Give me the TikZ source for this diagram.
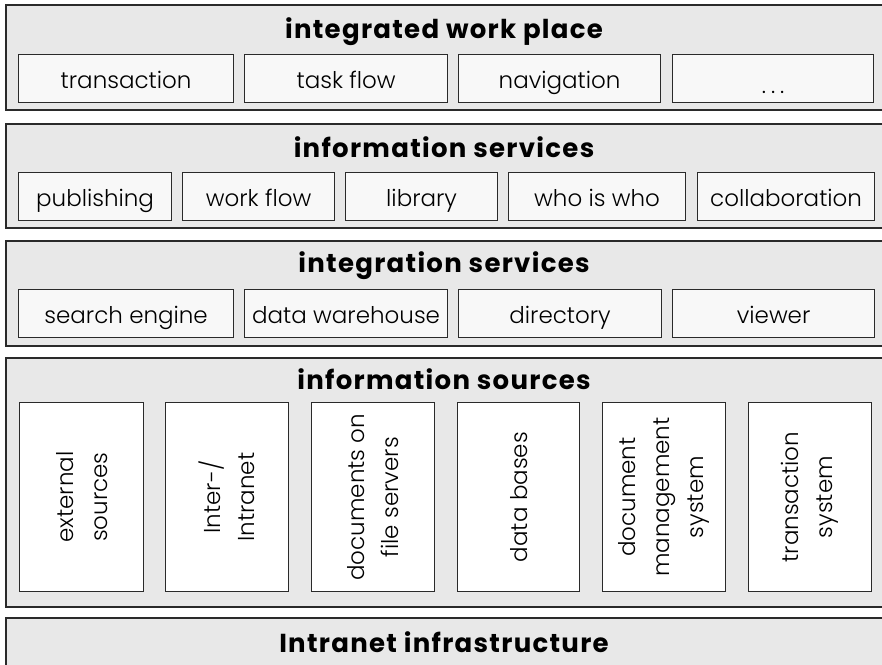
\documentclass[tikz,border=0pt]{standalone}
\usepackage{fontspec}
\setmainfont{Poppins}
\newfontfamily\lightfont{Poppins Light}
\newfontfamily\titlefont{Poppins Bold}[LetterSpace=5]
\definecolor{outerfill}{HTML}{E8E8E8}
\definecolor{innerfill}{HTML}{F8F8F8}
\definecolor{edgecol}{HTML}{2A2A2A}
\tikzset{
  layer/.style={draw=edgecol, line width=1.6pt, fill=outerfill, anchor=north west, inner sep=0pt},
  ibox/.style={draw=edgecol, line width=1.2pt, fill=innerfill, anchor=north west, inner sep=0pt,
    font=\lightfont\fontsize{23}{27}\selectfont, text height=22pt, text depth=2pt},
  vbox/.style={draw=edgecol, line width=1.2pt, fill=white, anchor=north west, inner sep=0pt},
  vlab/.style={rotate=90, align=center, font=\lightfont\fontsize{23}{34}\selectfont},
  title/.style={anchor=base, font=\titlefont\fontsize{26}{30}\selectfont, inner sep=0pt}
}
\begin{document}
\begin{tikzpicture}[x=1pt, y=-1pt]
\path[use as bounding box, clip] (0,0) rectangle (882,664);
\fill[white] (0,0) rectangle (882,664);
% layer 1
\node[layer, minimum width=880, minimum height=105] (L1) at (5,4) {};
\node[title] (T1) at (444,38) {integrated work place};
\node[ibox, minimum width=215, minimum height=48] (a1) at (18,54) {transaction};
\node[ibox, minimum width=203, minimum height=48] (a2) at (244,54) {task flow};
\node[ibox, minimum width=202, minimum height=48] (a3) at (458,54) {navigation};
\node[ibox, minimum width=201, minimum height=48] (a4) at (672,54) {\raisebox{-5pt}{.\hspace{5pt}.\hspace{5pt}.}};
% layer 2
\node[layer, minimum width=880, minimum height=104] (L2) at (5,123) {};
\node[title] (T2) at (444,157) {information services};
\node[ibox, minimum width=153, minimum height=48] (b1) at (18,172) {publishing};
\node[ibox, minimum width=152, minimum height=48] (b2) at (182,172) {work flow};
\node[ibox, minimum width=152, minimum height=48] (b3) at (345,172) {library};
\node[ibox, minimum width=177, minimum height=48] (b4) at (508,172) {who is who};
\node[ibox, minimum width=177, minimum height=48] (b5) at (697,172) {collaboration};
% layer 3
\node[layer, minimum width=880, minimum height=105] (L3) at (5,240) {};
\node[title] (T3) at (444,272) {integration services};
\node[ibox, minimum width=215, minimum height=48] (c1) at (18,289) {search engine};
\node[ibox, minimum width=203, minimum height=48] (c2) at (244,289) {data warehouse};
\node[ibox, minimum width=203, minimum height=48] (c3) at (458,289) {directory};
\node[ibox, minimum width=202, minimum height=48] (c4) at (672,289) {viewer};
% layer 4
\node[layer, minimum width=880, minimum height=249] (L4) at (5,357) {};
\node[title] (T4) at (444,389) {information sources};
\node[vbox, minimum width=124, minimum height=189] (d1) at (19,402) {};
\node[vbox, minimum width=123, minimum height=189] (d2) at (165,402) {};
\node[vbox, minimum width=123, minimum height=189] (d3) at (311,402) {};
\node[vbox, minimum width=122, minimum height=189] (d4) at (457,402) {};
\node[vbox, minimum width=123, minimum height=189] (d5) at (602,402) {};
\node[vbox, minimum width=123, minimum height=189] (d6) at (748,402) {};
\node[vlab] (e1) at (d1.center) {external\\sources};
\node[vlab] (e2) at (d2.center) {Inter-/\\Intranet};
\node[vlab] (e3) at (d3.center) {documents on\\file servers};
\node[vlab] (e4) at (d4.center) {data bases};
\node[vlab] (e5) at (d5.center) {document\\management\\system};
\node[vlab] (e6) at (d6.center) {transaction\\system};
% layer 5
\node[layer, minimum width=880, minimum height=70] (L5) at (5,617) {};
\node[title] (T5) at (444,652) {Intranet infrastructure};
\end{tikzpicture}
\end{document}
